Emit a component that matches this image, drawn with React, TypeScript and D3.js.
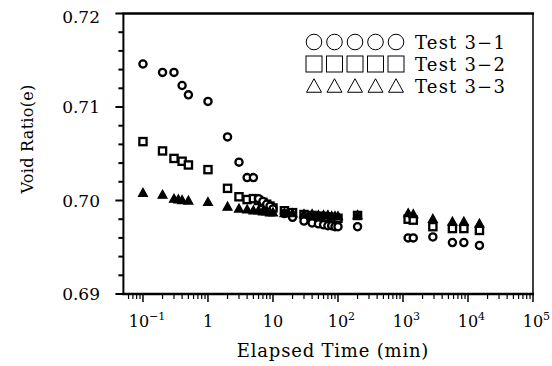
import React from "react";
import * as d3 from "d3";

const yTickValues = [0.69, 0.7, 0.71, 0.72];
const yTickLabels = ["0.69", "0.70", "0.71", "0.72"];
const xTickValues = [0.1, 1, 10, 100, 1000, 10000, 100000];
const xTickBase = ["10", "1", "10", "10", "10", "10", "10"];
const xTickSup = ["−1", "", "", "2", "3", "4", "5"];

const timesA = [0.1, 0.2, 0.3, 0.4, 0.5, 1, 2, 3, 4, 5, 6, 7, 8, 9, 10, 15, 20, 30, 40, 50, 60, 70, 80, 90, 100, 200, 1200, 1440, 2880, 5760, 8640, 15000];
const test31 = [0.7146, 0.7137, 0.7137, 0.7123, 0.7113, 0.7106, 0.7068, 0.7041, 0.70245, 0.70245, 0.7002, 0.6999, 0.6996, 0.6994, 0.6991, 0.6986, 0.6982, 0.6978, 0.6976, 0.6975, 0.6974, 0.6973, 0.6973, 0.6972, 0.6972, 0.6972, 0.696, 0.696, 0.6961, 0.6955, 0.6955, 0.6952];
const test32 = [0.7063, 0.7053, 0.7045, 0.7042, 0.7038, 0.7033, 0.7013, 0.7004, 0.7001, 0.7002, 0.7, 0.6998, 0.6996, 0.6994, 0.6992, 0.6989, 0.6987, 0.6985, 0.6984, 0.6983, 0.6983, 0.6982, 0.6982, 0.6981, 0.6981, 0.6984, 0.698, 0.6979, 0.6972, 0.697, 0.697, 0.6968];
const timesC = [0.1, 0.2, 0.3, 0.35, 0.4, 0.5, 1, 2, 3, 4, 5, 6, 7, 8, 9, 10, 15, 20, 30, 40, 50, 60, 70, 80, 90, 100, 200, 1200, 1440, 2880, 5760, 8640, 15000];
const test33 = [0.70078, 0.70058, 0.70015, 0.70008, 0.7, 0.69995, 0.6998, 0.6993, 0.6991, 0.699, 0.6989, 0.6989, 0.6988, 0.6988, 0.6987, 0.6987, 0.6986, 0.6986, 0.6985, 0.6985, 0.6984, 0.6984, 0.6984, 0.6983, 0.6983, 0.6983, 0.6984, 0.6986, 0.6985, 0.698, 0.6977, 0.6977, 0.6975];

const legendLabels = ["Test 3−1", "Test 3−2", "Test 3−3"];

const FONT = "'DejaVu Serif', serif";

export default function App() {
  const x = d3.scaleLog().domain([0.05, 100000]).range([123.4, 533]);
  const y = d3.scaleLinear().domain([0.69, 0.72]).range([294, 13.5]);

  const minorX: number[] = [];
  for (let e = -2; e < 5; e++) {
    for (let k = 2; k <= 9; k++) {
      const v = k * Math.pow(10, e);
      if (v > 0.05 && v < 100000) minorX.push(v);
    }
  }
  const minorY = d3.range(0, 16).map((i) => 0.69 + i * 0.002).filter((v) => !yTickValues.some((t) => Math.abs(t - v) < 1e-6));

  const tri = (cx: number, cy: number, s: number) =>
    `M${cx},${cy - s * 0.55} L${cx + s * 0.5},${cy + s * 0.35} L${cx - s * 0.5},${cy + s * 0.35} Z`;

  const x0 = x.range()[0];
  const x1 = x.range()[1];
  const yb = y.range()[0];
  const yt = y.range()[1];

  return (
    <svg width={552} height={366} style={{ position: "absolute", left: 0, top: 0, background: "#fff" }} fontFamily={FONT}>
      <rect x={0} y={0} width={552} height={366} fill="#fff" />
      {/* frame */}
      <line x1={x0 - 1} x2={x1 + 1} y1={yt} y2={yt} stroke="#000" strokeWidth={2.5} />
      <line x1={x0 - 1} x2={x1 + 1} y1={yb} y2={yb} stroke="#000" strokeWidth={2.5} />
      <line x1={x0} x2={x0} y1={yt} y2={yb} stroke="#000" strokeWidth={2} />
      <line x1={x1} x2={x1} y1={yt} y2={yb} stroke="#000" strokeWidth={1.5} />

      {/* y ticks */}
      {yTickValues.map((v, i) => (
        <g key={"yt" + i}>
          <line x1={x0 - 8} x2={x0} y1={y(v)} y2={y(v)} stroke="#000" strokeWidth={2} />
          <text x={100} y={y(v) + (i === 3 ? 3 : 0)} textAnchor="end" dominantBaseline="central" fontSize={17}>
            {yTickLabels[i]}
          </text>
        </g>
      ))}
      {minorY.map((v, i) => (
        <line key={"ym" + i} x1={x0 - 5} x2={x0} y1={y(v)} y2={y(v)} stroke="#000" strokeWidth={2} />
      ))}

      {/* x ticks */}
      {minorX.map((v, i) => (
        <line key={"xm" + i} x1={x(v)} x2={x(v)} y1={yb} y2={yb + 5} stroke="#000" strokeWidth={1.2} />
      ))}
      {xTickValues.map((v, i) => (
        <g key={"xt" + i}>
          <line x1={x(v)} x2={x(v)} y1={yb} y2={yb + 8} stroke="#000" strokeWidth={1.5} />
          <text x={x(v) - (xTickSup[i] === "−1" ? 4 : 0)} y={327} textAnchor="middle" fontSize={16}>
            {xTickBase[i]}
          </text>
          {xTickSup[i] && (
            <text x={x(v) - (xTickSup[i] === "−1" ? 4 : 0) + 10} y={320} textAnchor="start" fontSize={11}>
              {xTickSup[i]}
            </text>
          )}
        </g>
      ))}

      {/* axis titles */}
      <text x={333} y={357} textAnchor="middle" fontSize={18} letterSpacing={0.8}>
        Elapsed Time (min)
      </text>
      <text transform="translate(27,139) rotate(-90)" textAnchor="middle" dominantBaseline="central" fontSize={16} letterSpacing={0.3}>
        Void  Ratio(e)
      </text>

      {/* data */}
      {timesA.map((t, i) => (
        <rect key={"s" + i} x={x(t) - 3.6} y={y(test32[i]) - 3.6} width={7.2} height={7.2} fill="#fff" stroke="#000" strokeWidth={2.3} />
      ))}
      {timesA.map((t, i) => (
        <circle key={"c" + i} cx={x(t)} cy={y(test31[i])} r={3.6} fill="#fff" stroke="#000" strokeWidth={2.3} />
      ))}
      {timesC.map((t, i) => (
        <path key={"t" + i} d={tri(x(t), y(test33[i]), 9)} fill="#000" stroke="#000" strokeWidth={1.2} />
      ))}

      {/* legend */}
      {legendLabels.map((lab, row) => {
        const cy = 42 + row * 22;
        return (
          <g key={"lg" + row}>
            {d3.range(5).map((k) => {
              const cx = 314 + k * 20.5;
              if (row === 0) return <circle key={k} cx={cx} cy={cy} r={7.8} fill="none" stroke="#000" strokeWidth={1} />;
              if (row === 1) return <rect key={k} x={cx - 8} y={cy - 8} width={16} height={16} fill="none" stroke="#000" strokeWidth={1} />;
              return <path key={k} d={tri(cx, cy + 1, 15)} fill="none" stroke="#000" strokeWidth={1} />;
            })}
            <text x={415} y={cy} dominantBaseline="central" fontSize={18} letterSpacing={1.2}>
              {lab}
            </text>
          </g>
        );
      })}
    </svg>
  );
}
